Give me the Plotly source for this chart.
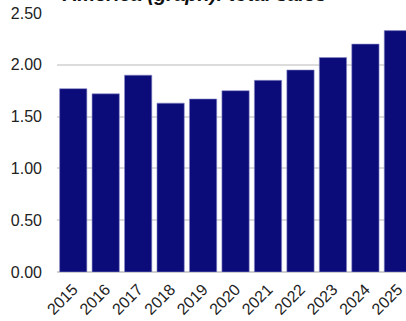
import plotly.graph_objects as go

years = ["2015", "2016", "2017", "2018", "2019", "2020", "2021", "2022", "2023", "2024", "2025"]
sales = [1.77, 1.72, 1.90, 1.63, 1.67, 1.75, 1.85, 1.95, 2.07, 2.20, 2.33]
y_ticks = [0, 0.5, 1.0, 1.5, 2.0, 2.5]
y_tick_labels = ["0.00", "0.50", "1.00", "1.50", "2.00", "2.50"]
title_text = "America (graph): total sales"

W, H = 406, 321
ml, mr, mt, mb = 57, 0, 13, 49
plot_h = H - mt - mb
plot_w = W - ml - mr

fig = go.Figure(go.Bar(
    x=list(range(len(years))), y=sales,
    marker=dict(color="#0b0b7a", line=dict(color="#8c8cc8", width=0.6)),
))

fig.update_layout(
    width=W, height=H,
    margin=dict(l=ml, r=mr, t=mt, b=mb, pad=0, autoexpand=False),
    paper_bgcolor="white", plot_bgcolor="white",
    bargap=0.16, showlegend=False,
    font=dict(family="Liberation Sans, Arial, sans-serif", size=16, color="#222222"),
    xaxis=dict(
        range=[-0.5, 10.25], tickmode="array",
        tickvals=list(range(len(years))), ticktext=years,
        tickangle=-45, showgrid=False, zeroline=False, showline=False,
        ticks="", tickfont=dict(size=16), ticklabelstandoff=4,
        automargin=False, ticklabeloverflow="allow",
    ),
    yaxis=dict(
        range=[0, 2.5], tickmode="array", tickvals=y_ticks, ticktext=y_tick_labels,
        showgrid=True, gridcolor="#dcdcdc", gridwidth=1.5,
        zeroline=True, zerolinecolor="#cfcfcf", zerolinewidth=1.5,
        showline=False, ticks="", ticklabelstandoff=14, tickfont=dict(size=16),
        automargin=False,
    ),
    annotations=[dict(
        text="<b><i>" + title_text + "</i></b>",
        x=(193.5 - ml) / plot_w, xref="paper", xanchor="center",
        y=1 + 6 / plot_h, yref="paper", yanchor="bottom",
        showarrow=False, font=dict(size=20, color="#111111"),
    )],
)

fig.write_html("out.html")
